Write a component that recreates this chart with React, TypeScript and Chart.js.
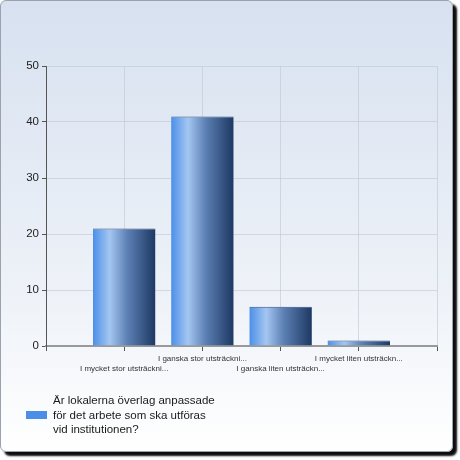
import React, { useEffect, useRef } from 'react';
import Chart, { ScriptableContext } from 'chart.js/auto';

// Survey answers (labels as shown, truncated by the original tool)
const categories = [
    'I mycket stor utsträckni...',
    'I ganska stor utsträckni...',
    'I ganska liten utsträckn...',
    'I mycket liten utsträckn...',
];
const answerCounts = [21, 41, 7, 1];
const yTicks = [0, 10, 20, 30, 40, 50];
const seriesLabel = ['Är lokalerna överlag anpassade', 'för det arbete som ska utföras', 'vid institutionen?'];

const FONT = "'Liberation Sans', Arial, sans-serif";

// Odd categories drop one line so the long labels don't collide
const staggered = categories.map((c, i) => (i % 2 === 0 ? ['', c] : c));
const labels = ['', ...staggered, ''];
const values = [null, ...answerCounts, null];

const barGradient = (c: ScriptableContext<'bar'>) => {
    const chart = c.chart;
    const x = chart.scales.x;
    if (!x || !chart.chartArea) return '#4a8ee8';
    const center = x.getPixelForValue(c.dataIndex);
    const step = x.getPixelForValue(1) - x.getPixelForValue(0);
    const half = (step * 0.8) / 2;
    const g = chart.ctx.createLinearGradient(center - half, 0, center + half, 0);
    g.addColorStop(0, '#4b8fe8');
    g.addColorStop(0.27, '#a4c6f1');
    g.addColorStop(0.55, '#5c80b4');
    g.addColorStop(1, '#1d3863');
    return g;
};

const App: React.FC = () => {
    const canvasRef = useRef<HTMLCanvasElement>(null);
    const chartInstance = useRef<Chart | null>(null);

    useEffect(() => {
        const ctx = canvasRef.current?.getContext('2d');
        if (!ctx) return;

        if (chartInstance.current) {
            chartInstance.current.destroy();
        }

        chartInstance.current = new Chart(ctx, {
            type: 'bar',
            data: {
                labels,
                datasets: [{
                    label: seriesLabel.join(' '),
                    data: values,
                    backgroundColor: barGradient,
                    borderColor: '#2f4f80',
                    borderWidth: { top: 1, left: 0, right: 0, bottom: 0 },
                    borderSkipped: false,
                    categoryPercentage: 0.8,
                    barPercentage: 1,
                }]
            },
            options: {
                responsive: false,
                animation: false,
                layout: { padding: { top: 66, right: 23, bottom: 0, left: 0 } },
                scales: {
                    x: {
                        offset: false,
                        afterFit: (s) => { s.height = 114; },
                        grid: {
                            offset: false,
                            color: 'rgba(190,198,212,0.6)',
                            tickColor: '#555',
                            tickLength: 5,
                        },
                        border: { color: '#999', width: 2 },
                        ticks: {
                            autoSkip: false,
                            minRotation: 0,
                            maxRotation: 0,
                            padding: 3,
                            color: '#333',
                            font: { family: FONT, size: 8 },
                        },
                    },
                    y: {
                        min: 0,
                        max: 50,
                        afterFit: (s) => { s.width = 46; },
                        afterBuildTicks: (s) => { s.ticks = yTicks.map((v) => ({ value: v })); },
                        grid: {
                            color: 'rgba(190,198,212,0.6)',
                            tickColor: '#555',
                            tickLength: 4,
                        },
                        border: { color: '#555', width: 1 },
                        ticks: {
                            padding: 3,
                            color: '#222',
                            font: { family: FONT, size: 11.5 },
                        },
                    },
                },
                plugins: {
                    legend: { display: false },
                    tooltip: { enabled: false },
                },
            }
        });

        return () => {
            if (chartInstance.current) {
                chartInstance.current.destroy();
                chartInstance.current = null;
            }
        };
    }, []);

    return (
        <div style={{ position: 'absolute', left: 0, top: 0, width: 460, height: 460, background: '#fff' }}>
            <div style={{
                position: 'absolute', left: 0, top: 0, width: 451, height: 450,
                border: '1px solid #9aa3ad', borderRadius: 6,
                background: 'linear-gradient(to bottom, #d7e1f0 0%, #eef2f8 65%, #ffffff 100%)',
                boxShadow: '4px 4px 2px rgba(0,0,0,0.95)',
            }} />
            <canvas ref={canvasRef} width={460} height={460} style={{ position: 'absolute', left: 0, top: 0 }} />
            <div style={{ position: 'absolute', left: 26, top: 411, width: 21, height: 8, background: '#4a8ee8' }} />
            <div style={{
                position: 'absolute', left: 53, top: 393, fontFamily: FONT, fontSize: 11.5,
                lineHeight: '14.5px', color: '#1a1a1a',
            }}>
                {seriesLabel.map((line) => <div key={line}>{line}</div>)}
            </div>
        </div>
    );
};

export default App;
